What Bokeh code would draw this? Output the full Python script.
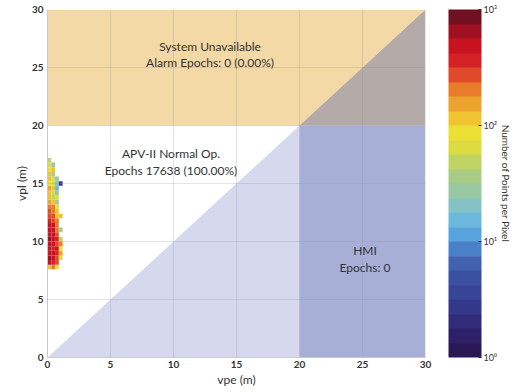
from bokeh.plotting import figure
from bokeh.models import (ColumnDataSource, LogColorMapper, ColorBar, FixedTicker,
                          Label, Title, Range1d)
from bokeh.embed import file_html
from bokeh.resources import INLINE

# ---------------- data ----------------
axis_ticks = [0, 5, 10, 15, 20, 25, 30]
axis_max = 30
alert_limit_vpl = 20
alert_limit_vpe = 20

cell_w = 0.3
cell_h = 0.4
col_lefts = [0.0, 0.3, 0.6, 0.9]
row_bottoms = [7.6, 8.0, 8.4, 8.8, 9.2, 9.6, 10.0, 10.4, 10.8, 11.2, 11.6, 12.0,
               12.4, 12.8, 13.2, 13.6, 14.0, 14.4, 14.8, 15.2, 15.6, 16.0, 16.4, 16.8]
counts = [
    [120, 200, 90, 0],
    [450, 380, 250, 0],
    [600, 450, 300, 60],
    [500, 550, 350, 150],
    [450, 400, 500, 80],
    [550, 450, 300, 200],
    [600, 500, 350, 50],
    [500, 550, 250, 0],
    [550, 450, 200, 40],
    [450, 500, 180, 0],
    [350, 300, 200, 0],
    [300, 250, 130, 120],
    [250, 200, 110, 0],
    [200, 180, 90, 0],
    [150, 120, 40, 0],
    [100, 45, 70, 0],
    [110, 60, 25, 0],
    [160, 100, 15, 0],
    [90, 70, 20, 3],
    [130, 60, 30, 0],
    [100, 40, 0, 0],
    [80, 110, 0, 0],
    [70, 30, 0, 0],
    [50, 0, 0, 0],
]

cbar_ticks = [1, 10, 100, 1000]
cbar_labels = ["10\u2070", "10\u00b9", "10\u00b2", "10\u00b3"]

palette = ["#2a1856", "#2d2068", "#302c7a", "#34388a", "#384496", "#3c50a2",
           "#4262b0", "#4a80c8", "#58a4dc", "#6cb8dc", "#84c2c4", "#98c8a4",
           "#a8cc84", "#c0d464", "#dcdc40", "#ece034", "#f0c430", "#eca42e",
           "#e87c2a", "#e04a2a", "#d42226", "#c81222", "#a01020", "#701020"]

region_labels = ["System Unavailable", "Alarm Epochs: 0 (0.00%)",
                 "APV-II Normal Op.", "Epochs 17638 (100.00%)",
                 "HMI", "Epochs: 0"]

# ---------------- build ----------------
xs, ys, vals = [], [], []
for r, yb in enumerate(row_bottoms):
    for c, xl in enumerate(col_lefts):
        v = counts[r][c]
        if v > 0:
            xs.append(xl + cell_w / 2)
            ys.append(yb + cell_h / 2)
            vals.append(v)
src = ColumnDataSource(dict(x=xs, y=ys, v=vals))

mapper = LogColorMapper(palette=palette, low=1, high=1000)

FONT = "Lato"
TXT = "#333333"

p = figure(frame_width=378, frame_height=348, output_backend="svg",
           toolbar_location=None, x_range=Range1d(0, axis_max),
           y_range=Range1d(0, axis_max), min_border_left=47, min_border_top=9,
           min_border_right=0, min_border_bottom=2)
p.outline_line_color = None
p.background_fill_color = "white"

A = alert_limit_vpe
B = alert_limit_vpl
M = axis_max
# misleading region (vpe > vpl, below alert limits)
p.patch([0, A, A], [0, 0, A], fill_color="#d6d9ee", line_color=None)
# HMI region
p.patch([A, M, M, A], [0, 0, B, B], fill_color="#a8afd7", line_color=None)
# system unavailable
p.patch([0, B, M, 0], [B, B, M, M], fill_color="#f2d9a6", line_color=None)
# overlap triangle
p.patch([A, M, M], [B, B, M], fill_color="#b4aaa7", line_color=None)

p.rect(x="x", y="y", width=cell_w, height=cell_h, source=src,
       fill_color={"field": "v", "transform": mapper}, line_color=None)

for g in (p.xgrid, p.ygrid):
    g.ticker = FixedTicker(ticks=axis_ticks)
    g.grid_line_color = "#8a8aa8"
    g.grid_line_alpha = 0.25
    g.level = "overlay"

for ax in (p.xaxis, p.yaxis):
    ax.ticker = FixedTicker(ticks=axis_ticks)
    ax.axis_line_color = "#c8c8d8"
    ax.major_tick_line_color = None
    ax.minor_tick_line_color = None
    ax.major_tick_in = 0
    ax.major_tick_out = 0
    ax.major_label_text_font = FONT
    ax.major_label_text_font_style = "bold"
    ax.major_label_text_font_size = "10px"
    ax.major_label_text_color = TXT
    ax.axis_label_text_font = FONT
    ax.axis_label_text_font_style = "normal"
    ax.axis_label_text_font_size = "12px"
    ax.axis_label_text_color = TXT
p.xaxis.axis_label = "vpe (m)"
p.yaxis.axis_label = "vpl (m)"
p.xaxis.axis_label_standoff = 1
p.yaxis.axis_label_standoff = 0
p.xaxis.major_label_standoff = 3
p.yaxis.major_label_standoff = 4

lab_pos = [(12.9, 26.8), (12.9, 25.4), (9.8, 17.6), (9.8, 16.1), (25.2, 9.2), (25.2, 7.8)]
for t, (lx, ly) in zip(region_labels, lab_pos):
    p.add_layout(Label(x=lx, y=ly, text=t, text_align="center", text_baseline="middle",
                       text_font=FONT, text_font_size="12px", text_color=TXT))

# spacer between the frame and the colour bar
p.add_layout(Title(text=" ", text_font_size="10px", standoff=10), "right")

cb = ColorBar(color_mapper=mapper, width=33, padding=0,
              ticker=FixedTicker(ticks=cbar_ticks),
              major_label_overrides={k: v for k, v in zip(cbar_ticks, cbar_labels)},
              major_label_text_font=FONT, major_label_text_font_size="9px",
              major_label_text_color=TXT, major_tick_line_color="#333333",
              major_tick_in=3, major_tick_out=0, minor_tick_line_color=None,
              bar_line_color=None, border_line_color=None, background_fill_color=None,
              label_standoff=2)
p.add_layout(cb, "right")
p.add_layout(Title(text="Number of Points per Pixel", text_font=FONT,
                   text_font_size="10px", text_font_style="normal", text_color=TXT,
                   align="center", standoff=0), "right")

open("out.html", "w").write(file_html(p, INLINE))
